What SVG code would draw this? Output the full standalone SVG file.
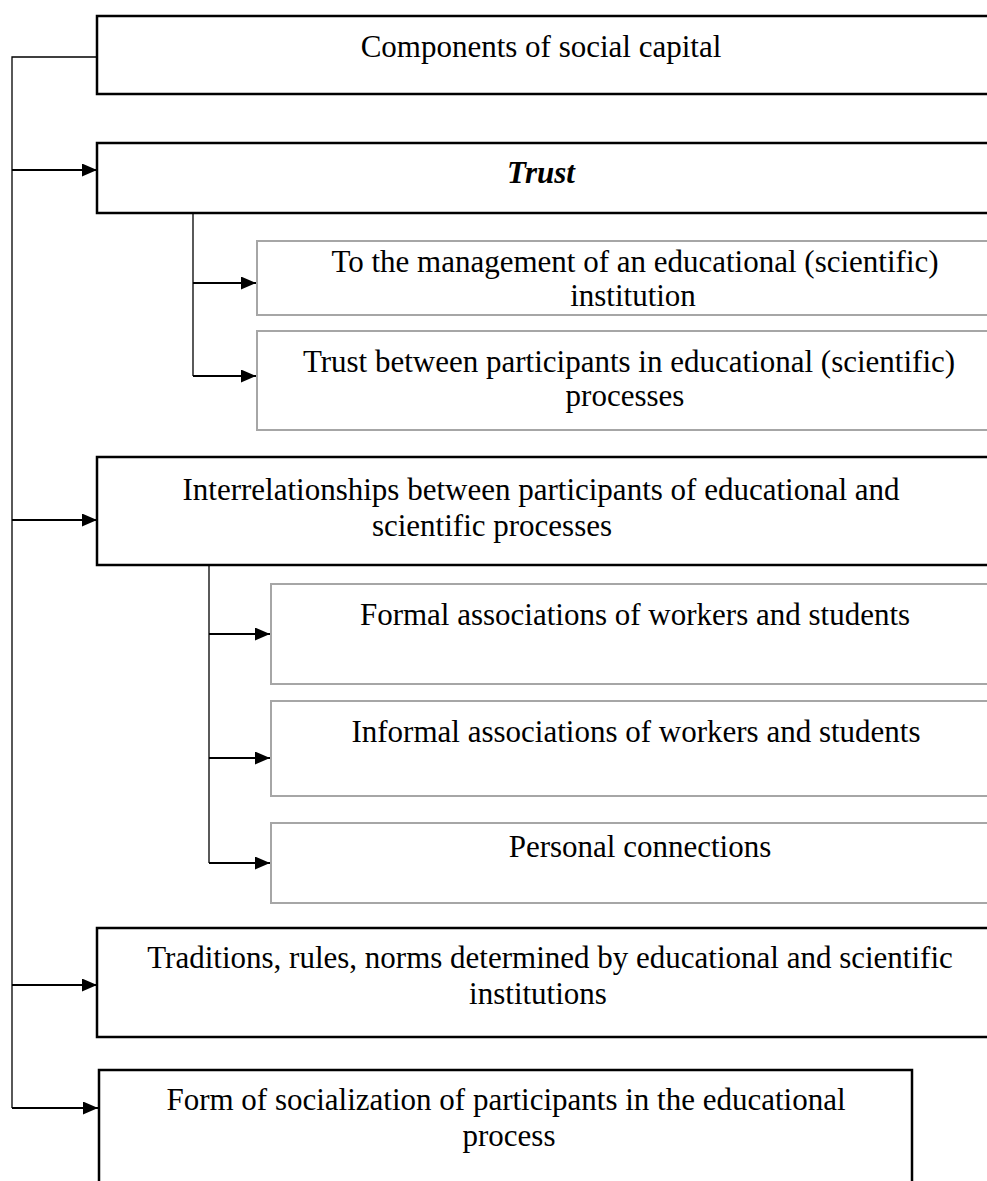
<svg xmlns="http://www.w3.org/2000/svg" width="987" height="1181" viewBox="0 0 987 1181">
<style>
.main{fill:#fff;stroke:#000;stroke-width:2.5}
.sub{fill:#fff;stroke:#a6a6a6;stroke-width:2}
.t{font-family:"Liberation Serif","Times New Roman",serif;font-size:31px;fill:#000;text-anchor:middle}
.thin{fill:none;stroke:#000;stroke-width:1.3}
.arr{fill:none;stroke:#000;stroke-width:2;marker-end:url(#ah)}
</style>
<defs>
<marker id="ah" markerWidth="15" markerHeight="13" refX="15" refY="6.5" orient="auto" markerUnits="userSpaceOnUse">
<path d="M0,0 L15,6.5 L0,13 Z" fill="#000"/>
</marker>
</defs>
<rect width="987" height="1181" fill="#fff"/>
<g id="connectors">
<polyline class="thin" points="97,57 12,57 12,1108"/>
<line class="thin" x1="193" y1="213" x2="193" y2="376"/>
<line class="thin" x1="209" y1="565" x2="209" y2="863"/>
<line class="arr" x1="12" y1="170" x2="97" y2="170"/>
<line class="arr" x1="12" y1="520" x2="97" y2="520"/>
<line class="arr" x1="12" y1="985" x2="97" y2="985"/>
<line class="arr" x1="12" y1="1108" x2="98" y2="1108"/>
<line class="arr" x1="193" y1="283" x2="256" y2="283"/>
<line class="arr" x1="193" y1="376" x2="256" y2="376"/>
<line class="arr" x1="209" y1="634" x2="270" y2="634"/>
<line class="arr" x1="209" y1="758" x2="270" y2="758"/>
<line class="arr" x1="209" y1="863" x2="270" y2="863"/>
</g>
<g id="n1"><rect class="main" x="97" y="16" width="900" height="78"/><text class="t" x="541" y="57">Components of social capital</text></g>
<g id="n2"><rect class="main" x="97" y="143" width="900" height="70"/><text class="t" x="541" y="183" font-weight="bold" font-style="italic">Trust</text></g>
<g id="n3"><rect class="sub" x="257" y="241" width="740" height="74"/><text class="t" x="635" y="272">To the management of an educational (scientific)</text><text class="t" x="633" y="306">institution</text></g>
<g id="n4"><rect class="sub" x="257" y="331" width="740" height="99"/><text class="t" x="629" y="372">Trust between participants in educational (scientific)</text><text class="t" x="625" y="406">processes</text></g>
<g id="n5"><rect class="main" x="97" y="457" width="900" height="108"/><text class="t" x="541" y="500">Interrelationships between participants of educational and</text><text class="t" x="492" y="536">scientific processes</text></g>
<g id="n6"><rect class="sub" x="271" y="584" width="726" height="100"/><text class="t" x="635" y="625">Formal associations of workers and students</text></g>
<g id="n7"><rect class="sub" x="271" y="701" width="726" height="95"/><text class="t" x="636" y="742">Informal associations of workers and students</text></g>
<g id="n8"><rect class="sub" x="271" y="823" width="726" height="80"/><text class="t" x="640" y="857">Personal connections</text></g>
<g id="n9"><rect class="main" x="97" y="928" width="900" height="109"/><text class="t" x="550" y="968">Traditions, rules, norms determined by educational and scientific</text><text class="t" x="538" y="1004">institutions</text></g>
<g id="n10"><rect class="main" x="99" y="1070" width="813" height="130"/><text class="t" x="506" y="1110">Form of socialization of participants in the educational</text><text class="t" x="509" y="1146">process</text></g>
</svg>
